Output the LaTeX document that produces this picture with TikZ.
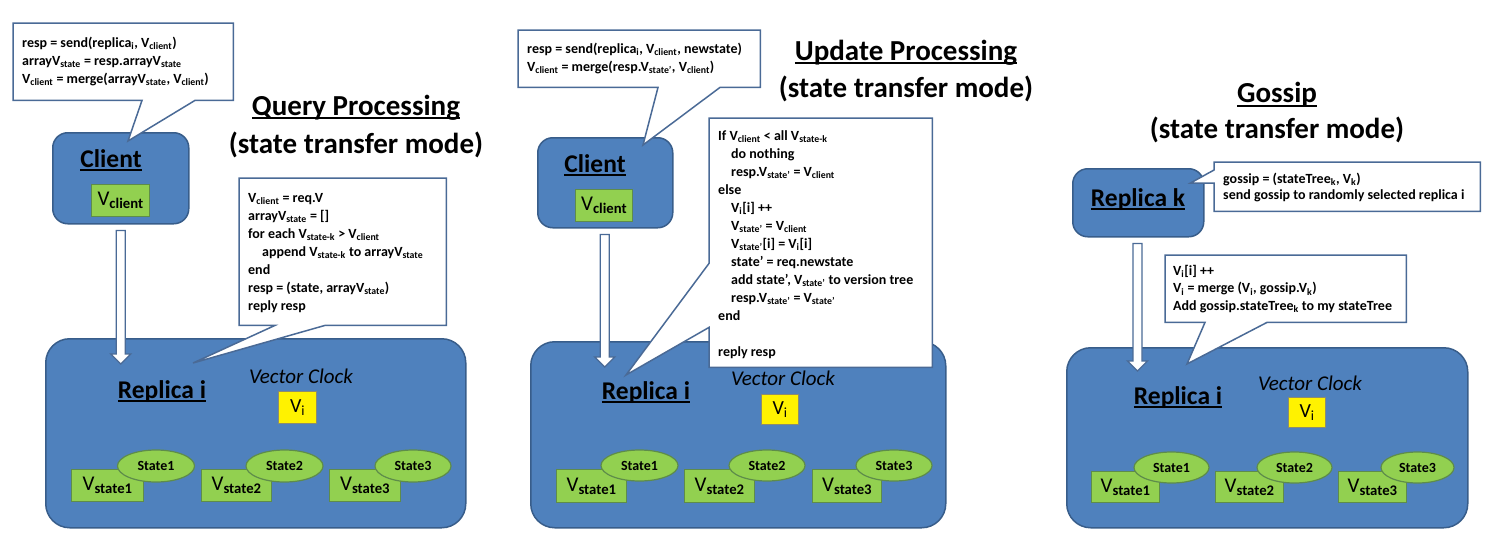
\documentclass[tikz,border=0pt]{standalone}
\usepackage{fontspec}
\setmainfont{Carlito}
\usetikzlibrary{shapes.geometric,calc}
\definecolor{bfill}{HTML}{4F81BD}
\definecolor{bdraw}{HTML}{385D8A}
\definecolor{gfill}{HTML}{92D050}
\definecolor{gdraw}{HTML}{5E8C4A}
\definecolor{ydraw}{HTML}{8C8C6E}
\definecolor{cdraw}{HTML}{4A6A96}
\newcommand\myul[1]{\setbox0\hbox{#1}\rlap{\rule[-0.13em]{\wd0}{0.07em}}\box0}
\newcommand\sbb[1]{\textsubscript{#1}}
\newcommand\blockarr[2]{%
  \draw[barrow] let \p1=(#1), \p2=(#2) in
    (\x1-4.5pt,\y1) -- (\x1-4.5pt,\y2+10pt) -- (\x1-10pt,\y2+10pt) -- (\x1,\y2)
    -- (\x1+10pt,\y2+10pt) -- (\x1+4.5pt,\y2+10pt) -- (\x1+4.5pt,\y1) -- cycle;}
\tikzset{
  bigbox/.style={fill=bfill, draw=bdraw, line width=1.5pt, rounded corners=24pt, inner sep=0pt, anchor=north west},
  smallbox/.style={fill=bfill, draw=bdraw, line width=1.5pt, rounded corners=15pt, inner sep=0pt, anchor=north west},
  gbox/.style={fill=gfill, draw=gdraw, line width=1.2pt, inner sep=0pt, anchor=north west, font=\fontsize{21}{23}\selectfont},
  ybox/.style={fill=yellow, draw=ydraw, line width=1.2pt, inner sep=0pt, anchor=north west, font=\fontsize{20}{22}\selectfont},
  ell/.style={ellipse, fill=gfill, draw=gdraw, line width=1.2pt, inner sep=0pt, font=\bfseries\fontsize{14}{16}\selectfont},
  title/.style={font=\bfseries\fontsize{29}{32}\selectfont, inner sep=0pt},
  lbl/.style={font=\bfseries\fontsize{25.5}{28}\selectfont, inner sep=0pt},
  vc/.style={font=\itshape\fontsize{21}{23}\selectfont, inner sep=0pt},
  cbox/.style={inner sep=0pt, anchor=north west},
  callst/.style={fill=white, draw=cdraw, line width=1.5pt, line join=miter},
  ctext/.style={inner sep=0pt, anchor=north west, align=left, font=\bfseries\fontsize{14}{18}\selectfont},
  barrow/.style={fill=white, draw=cdraw, line width=1.3pt},
}
\begin{document}
\begin{tikzpicture}[x=1pt,y=-1pt]
\useasboundingbox (0,0) rectangle (1502,546);

% ================= Panel 1: Query =================
\node[title] (t1a) at (356,108) {\myul{Query Processing}};
\node[title] (t1b) at (356,145) {(state transfer mode)};

\node[smallbox, minimum width=136pt, minimum height=91pt] (c1) at (52,132) {};
\node[lbl] (c1l) at (111,160) {\myul{Client}};
\node[gbox, minimum width=58pt, minimum height=32pt] (vc1) at (91,184) {V\sbb{\bfseries client}};

\node[bigbox, minimum width=420pt, minimum height=189pt] (r1) at (45,338) {};
\node[lbl] (r1l) at (162,392) {\myul{Replica i}};
\node[vc] (r1v) at (301,376) {Vector Clock};
\node[ybox, minimum width=38pt, minimum height=32pt] (vi1) at (278,391) {V\sbb{i}};

\node[gbox, minimum width=72pt, minimum height=32pt] (s11) at (71,469) {V\sbb{\bfseries state1}};
\node[ell, minimum width=77pt, minimum height=32pt] (e11) at (156,466) {State1};
\node[gbox, minimum width=70pt, minimum height=32pt] (s12) at (201,469) {V\sbb{\bfseries state2}};
\node[ell, minimum width=77pt, minimum height=32pt] (e12) at (284.5,466) {State2};
\node[gbox, minimum width=71pt, minimum height=32pt] (s13) at (329,469) {V\sbb{\bfseries state3}};
\node[ell, minimum width=76pt, minimum height=32pt] (e13) at (413,466) {State3};

\coordinate (a1s) at ($(c1.south)+(0,6)$);
\coordinate (a1e) at ($(c1.south |- r1.north)+(0,26)$);
\blockarr{a1s}{a1e}

% callout A
\node[cbox, minimum width=220pt, minimum height=77pt] (ca1) at (13,23) {};
\coordinate (ca1t) at ($(c1.north west)+(76,9)$);
\draw[callst] (ca1.north west) -- (ca1.north east) -- (ca1.south east)
  -- ($(ca1.south west)+(182,0)$) -- (ca1t) -- ($(ca1.south west)+(129,0)$) -- (ca1.south west) -- cycle;
\node[ctext] (ca1x) at (22,37) {resp = send(replica\sbb{i}, V\sbb{client})\\
arrayV\sbb{state} = resp.arrayV\sbb{state}\\
V\sbb{client} = merge(arrayV\sbb{state}, V\sbb{client})};

% callout B
\node[cbox, minimum width=207pt, minimum height=147pt] (cb1) at (239,178) {};
\coordinate (cb1t) at ($(r1.north west)+(148,25)$);
\draw[callst] (cb1.north west) -- (cb1.north east) -- (cb1.south east)
  -- ($(cb1.south west)+(86,0)$) -- (cb1t) -- ($(cb1.south west)+(36,0)$) -- (cb1.south west) -- cycle;
\node[ctext] (cb1x) at (248,193) {V\sbb{client} = req.V\\
arrayV\sbb{state} = []\\
for each V\sbb{state-k} > V\sbb{client}\\
\hspace*{14pt}append V\sbb{state-k} to arrayV\sbb{state}\\
end\\
resp = (state, arrayV\sbb{state})\\
reply resp};

% ================= Panel 2: Update =================
\node[title] (t2a) at (906,53) {\myul{Update Processing}};
\node[title] (t2b) at (906,89) {(state transfer mode)};

\node[smallbox, minimum width=135pt, minimum height=90pt] (c2) at (537,137) {};
\node[lbl] (c2l) at (595,165) {\myul{Client}};
\node[gbox, minimum width=57pt, minimum height=32pt] (vc2) at (575,189) {V\sbb{\bfseries client}};

\node[bigbox, minimum width=415pt, minimum height=186pt] (r2) at (530,341) {};
\node[lbl] (r2l) at (646,393) {\myul{Replica i}};
\node[vc] (r2v) at (783,378) {Vector Clock};
\node[ybox, minimum width=37pt, minimum height=30pt] (vi2) at (761,394) {V\sbb{i}};

\node[gbox, minimum width=70pt, minimum height=33pt] (s21) at (556,469) {V\sbb{\bfseries state1}};
\node[ell, minimum width=77pt, minimum height=31pt] (e21) at (639.5,465.5) {State1};
\node[gbox, minimum width=70pt, minimum height=33pt] (s22) at (684,469) {V\sbb{\bfseries state2}};
\node[ell, minimum width=76pt, minimum height=31pt] (e22) at (767,465.5) {State2};
\node[gbox, minimum width=69pt, minimum height=33pt] (s23) at (812,469) {V\sbb{\bfseries state3}};
\node[ell, minimum width=76pt, minimum height=31pt] (e23) at (894,465.5) {State3};

\coordinate (a2s) at ($(c2.south)+(-0.5,6)$);
\coordinate (a2e) at ($(a2s |- r2.north)+(0,26)$);
\blockarr{a2s}{a2e}

% callout A
\node[cbox, minimum width=242pt, minimum height=57pt] (ca2) at (518,30) {};
\coordinate (ca2t) at ($(c2.north west)+(106,8)$);
\draw[callst] (ca2.north west) -- (ca2.north east) -- (ca2.south east)
  -- ($(ca2.south west)+(202,0)$) -- (ca2t) -- ($(ca2.south west)+(140,0)$) -- (ca2.south west) -- cycle;
\node[ctext] (ca2x) at (527,43) {resp = send(replica\sbb{i}, V\sbb{client}, newstate)\\
V\sbb{client} = merge(resp.V\sbb{state’}, V\sbb{client})};

% callout B
\node[cbox, minimum width=223pt, minimum height=249pt] (cb2) at (709,118) {};
\coordinate (cb2t) at ($(r2.north west)+(96,34)$);
\draw[callst] (cb2.north west) -- (cb2.north east) -- (cb2.south east) -- (cb2.south west)
  -- ($(cb2.south west)+(0,-40)$) -- (cb2t) -- ($(cb2.south west)+(0,-104)$) -- cycle;
\node[ctext] (cb2x) at (718,130) {If V\sbb{client} < all V\sbb{state-k}\\
\hspace*{13pt}do nothing\\
\hspace*{13pt}resp.V\sbb{state’} = V\sbb{client}\\
else\\
\hspace*{13pt}V\sbb{i}[i] ++\\
\hspace*{13pt}V\sbb{state’} = V\sbb{client}\\
\hspace*{13pt}V\sbb{state’}[i] = V\sbb{i}[i]\\
\hspace*{13pt}state’ = req.newstate\\
\hspace*{13pt}add state’, V\sbb{state’} to version tree\\
\hspace*{13pt}resp.V\sbb{state’} = V\sbb{state’}\\
end\\[18pt]
reply resp};

% ================= Panel 3: Gossip =================
\node[title] (t3a) at (1277,95) {\myul{Gossip}};
\node[title] (t3b) at (1277,130) {(state transfer mode)};

\node[smallbox, minimum width=131pt, minimum height=68pt] (rk) at (1072,168) {};
\node[lbl] (rkl) at (1138,200) {\myul{Replica k}};

\node[bigbox, minimum width=401pt, minimum height=180pt] (r3) at (1066,347) {};
\node[lbl] (r3l) at (1178,398) {\myul{Replica i}};
\node[vc] (r3v) at (1310,383) {Vector Clock};
\node[ybox, minimum width=37pt, minimum height=30pt] (vi3) at (1288,397) {V\sbb{i}};

\node[gbox, minimum width=68pt, minimum height=31pt] (s31) at (1091,471) {V\sbb{\bfseries state1}};
\node[ell, minimum width=75pt, minimum height=31pt] (e31) at (1171.5,467.5) {State1};
\node[gbox, minimum width=68pt, minimum height=31pt] (s32) at (1215,471) {V\sbb{\bfseries state2}};
\node[ell, minimum width=75pt, minimum height=31pt] (e32) at (1294.5,467.5) {State2};
\node[gbox, minimum width=68pt, minimum height=31pt] (s33) at (1338,471) {V\sbb{\bfseries state3}};
\node[ell, minimum width=73pt, minimum height=31pt] (e33) at (1417.5,467.5) {State3};

\coordinate (a3s) at ($(rk.south west)+(65.5,6)$);
\coordinate (a3e) at ($(a3s |- r3.north)+(0,24)$);
\blockarr{a3s}{a3e}

% callout A
\node[cbox, minimum width=266pt, minimum height=49pt] (ca3) at (1214,162) {};
\coordinate (ca3t) at ($(rk.north east)+(-14,15)$);
\draw[callst] (ca3.north west) -- (ca3.north east) -- (ca3.south east) -- (ca3.south west)
  -- ($(ca3.north west)+(0,21)$) -- (ca3t) -- ($(ca3.north west)+(0,8)$) -- cycle;
\node[ctext, font=\bfseries\fontsize{14}{16}\selectfont] (ca3x) at (1223,173) {gossip = (stateTree\sbb{k}, V\sbb{k})\\
send gossip to randomly selected replica i};

% callout B
\node[cbox, minimum width=241pt, minimum height=67pt] (cb3) at (1165,255) {};
\coordinate (cb3t) at ($(r3.north west)+(121,17)$);
\draw[callst] (cb3.north west) -- (cb3.north east) -- (cb3.south east)
  -- ($(cb3.south west)+(102,0)$) -- (cb3t) -- ($(cb3.south west)+(40,0)$) -- (cb3.south west) -- cycle;
\node[ctext, font=\bfseries\fontsize{14}{17.5}\selectfont] (cb3x) at (1173,265) {V\sbb{i}[i] ++\\
V\sbb{i} = merge (V\sbb{i}, gossip.V\sbb{k})\\
Add gossip.stateTree\sbb{k} to my stateTree};
\end{tikzpicture}
\end{document}
